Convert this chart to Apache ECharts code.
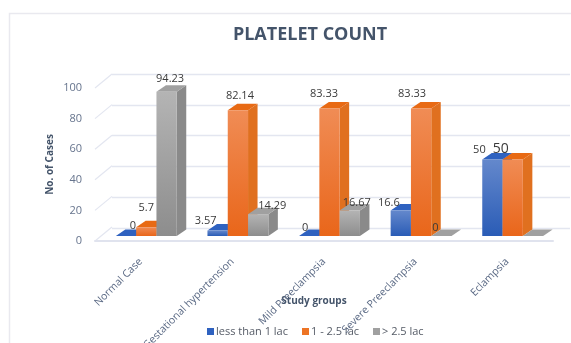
<!DOCTYPE html>
<html><head><meta charset="utf-8">
<style>html,body{margin:0;padding:0;background:#fff}#c{width:571px;height:343px}</style>
<script src="https://cdn.jsdelivr.net/npm/echarts@6/dist/echarts.min.js"></script>
</head><body><div id="c"></div>
<script>
const categories = ['Normal Case','Gestational hypertension','Mild Preeclampsia','Severe Preeclampsia','Eclampsia'];
const seriesNames = ['less than 1 lac','1 - 2.5 lac','> 2.5 lac'];
const lessThan1 = [0,3.57,0,16.6,50];
const from1To2 = [5.7,82.14,83.33,83.33,50];
const above2 = [94.23,14.29,16.67,0,0];
const yTicks = [0,20,40,60,80,100];
// label placement: nudges from the bar's top-centre, null = no label
const nudgeLess = [[7,-10],[-12,-9.5],[-4,-8],[-12,-8],[-13,-9.5]];
const nudgeMid = [[0,-19],[2,-14],[-5.5,-14.5],[-9,-14.5],[-12,-10.5]];
const nudgeAbove = [[3.5,-13],[14,-8],[7,-7.5],[-6,-8],null];
const labelFont = '"Open Sans","Liberation Sans",sans-serif';
const barW = 20.3, depthX = 9.5, depthY = 6.5, liftY = 5, shiftX = 5.5;
const grads = [
 {front:['#6488cc','#2a5cb6'],top:'#2f62c0',side:'#2a55a5'},
 {front:['#f08c55','#e9661a'],top:'#e86a14',side:'#e0701f'},
 {front:['#b4b4b4','#8d8d8d'],top:'#a0a0a0',side:'#8a8a8a'}
];
function lg(a,b){return {type:'linear',x:0,y:0,x2:0,y2:1,colorStops:[{offset:0,color:a},{offset:1,color:b}]};}
function barRender(si){
 return function(params,api){
  const c=api.coord([api.value(0),api.value(1)]);
  const b=api.coord([api.value(0),0]);
  const x=c[0]+shiftX+(si-1)*barW-barW/2, yt=c[1]-liftY, yb=b[1]-liftY, g=grads[si];
  const ch=[];
  if(yb-yt>0.5) ch.push({type:'polygon',shape:{points:[[x+barW,yt],[x+barW+depthX,yt-depthY],[x+barW+depthX,yb-depthY],[x+barW,yb]]},style:{fill:g.side}});
  ch.push({type:'polygon',shape:{points:[[x,yt],[x+depthX,yt-depthY],[x+barW+depthX,yt-depthY],[x+barW,yt]]},style:{fill:g.top}});
  if(yb-yt>0.5) ch.push({type:'rect',shape:{x:x,y:yt,width:barW,height:yb-yt},style:{fill:lg(g.front[0],g.front[1])}});
  return {type:'group',children:ch};
 };
}
function labelRender(si,nudges){
 return function(params,api){
  const n=nudges[params.dataIndex];
  if(!n) return null;
  const c=api.coord([api.value(0),api.value(1)]);
  const big = si===1 && params.dataIndex===4;
  return {type:'text',style:{text:String(api.value(1)),x:c[0]+shiftX+(si-1)*barW+n[0],y:c[1]-liftY+n[1],
    align:'center',verticalAlign:'middle',fill:'#3a3a3a',font:(big?'14px ':'11px ')+labelFont}};
 };
}
const sets=[lessThan1,from1To2,above2], nudges=[nudgeLess,nudgeMid,nudgeAbove];
const series=[];
series.push({type:'custom',silent:true,z:1,clip:false,xAxisIndex:0,yAxisIndex:0,data:yTicks.map(v=>[0,v]),
 renderItem:function(params,api){
  const y=api.coord([0,api.value(1)])[1], x0=params.coordSys.x;
  return {type:'line',shape:{x1:x0,y1:y,x2:x0+17,y2:y-14},style:{stroke:'#e3e6f0',lineWidth:1.2}};
 }});
sets.forEach((d,si)=>{
 series.push({name:seriesNames[si],type:'custom',z:2+si,clip:false,xAxisIndex:0,yAxisIndex:0,silent:true,
  itemStyle:{color:['#2f62c0','#ed7425','#a0a0a0'][si]},
  data:d.map((v,i)=>[i,v]),renderItem:barRender(si)});
});
sets.forEach((d,si)=>{
 series.push({type:'custom',z:10,clip:false,xAxisIndex:0,yAxisIndex:0,silent:true,
  data:d.map((v,i)=>[i,v]),renderItem:labelRender(si,nudges[si])});
});
const chart=echarts.init(document.getElementById('c'),null,{renderer:'canvas'});
chart.setOption({
 animation:false,backgroundColor:'#fff',
 title:{text:'PLATELET COUNT',left:305,textAlign:'center',top:21,
  textStyle:{fontFamily:labelFont,fontSize:18,fontWeight:'bold',color:'#44546a'}},
 legend:{data:seriesNames,left:202,top:321,itemWidth:7,itemHeight:7,itemGap:14,icon:'rect',
  textStyle:{fontFamily:labelFont,fontSize:11,color:'#555b66',padding:[0,0,0,-3]}},
 grid:[{left:95,right:18,top:88,bottom:102,outerBoundsMode:'none'},{left:112,right:1,top:74,bottom:115,outerBoundsMode:'none'}],
 xAxis:[
  {type:'category',gridIndex:0,data:categories,
   axisLine:{lineStyle:{color:'#e0e3ee',width:2}},axisTick:{show:false},
   axisLabel:{interval:0,rotate:45,margin:19,hideOverlap:false,fontFamily:labelFont,fontSize:10.5,color:'#5b6a85'},
   name:'Study groups',nameLocation:'middle',nameGap:55,nameMoveOverlap:false,
   nameTextStyle:{fontFamily:labelFont,fontSize:10,fontWeight:'bold',color:'#44546a',padding:[0,20,0,0]},z:5},
  {type:'category',gridIndex:1,data:categories,show:false}
 ],
 yAxis:[
  {type:'value',gridIndex:0,min:0,max:100,interval:20,
   axisLine:{show:false},axisTick:{show:false},splitLine:{show:false},
   axisLabel:{margin:13,fontFamily:labelFont,fontSize:11,color:'#66748d'},
   name:'No. of Cases',nameLocation:'middle',nameGap:40,nameRotate:90,nameMoveOverlap:false,
   nameTextStyle:{fontFamily:labelFont,fontSize:10,fontWeight:'bold',color:'#44546a'}},
  {type:'value',gridIndex:1,min:0,max:100,interval:20,
   axisLine:{show:false},axisTick:{show:false},axisLabel:{show:false},
   splitLine:{lineStyle:{color:'#e3e6f0',width:1.3}}}
 ],
 graphic:[{type:'polyline',silent:true,z:0,shape:{points:[[9.5,343],[9.5,13.5],[571,13.5]]},style:{fill:null,stroke:'#e9e9ef',lineWidth:1.5}}],
 series:series
});
</script></body></html>
